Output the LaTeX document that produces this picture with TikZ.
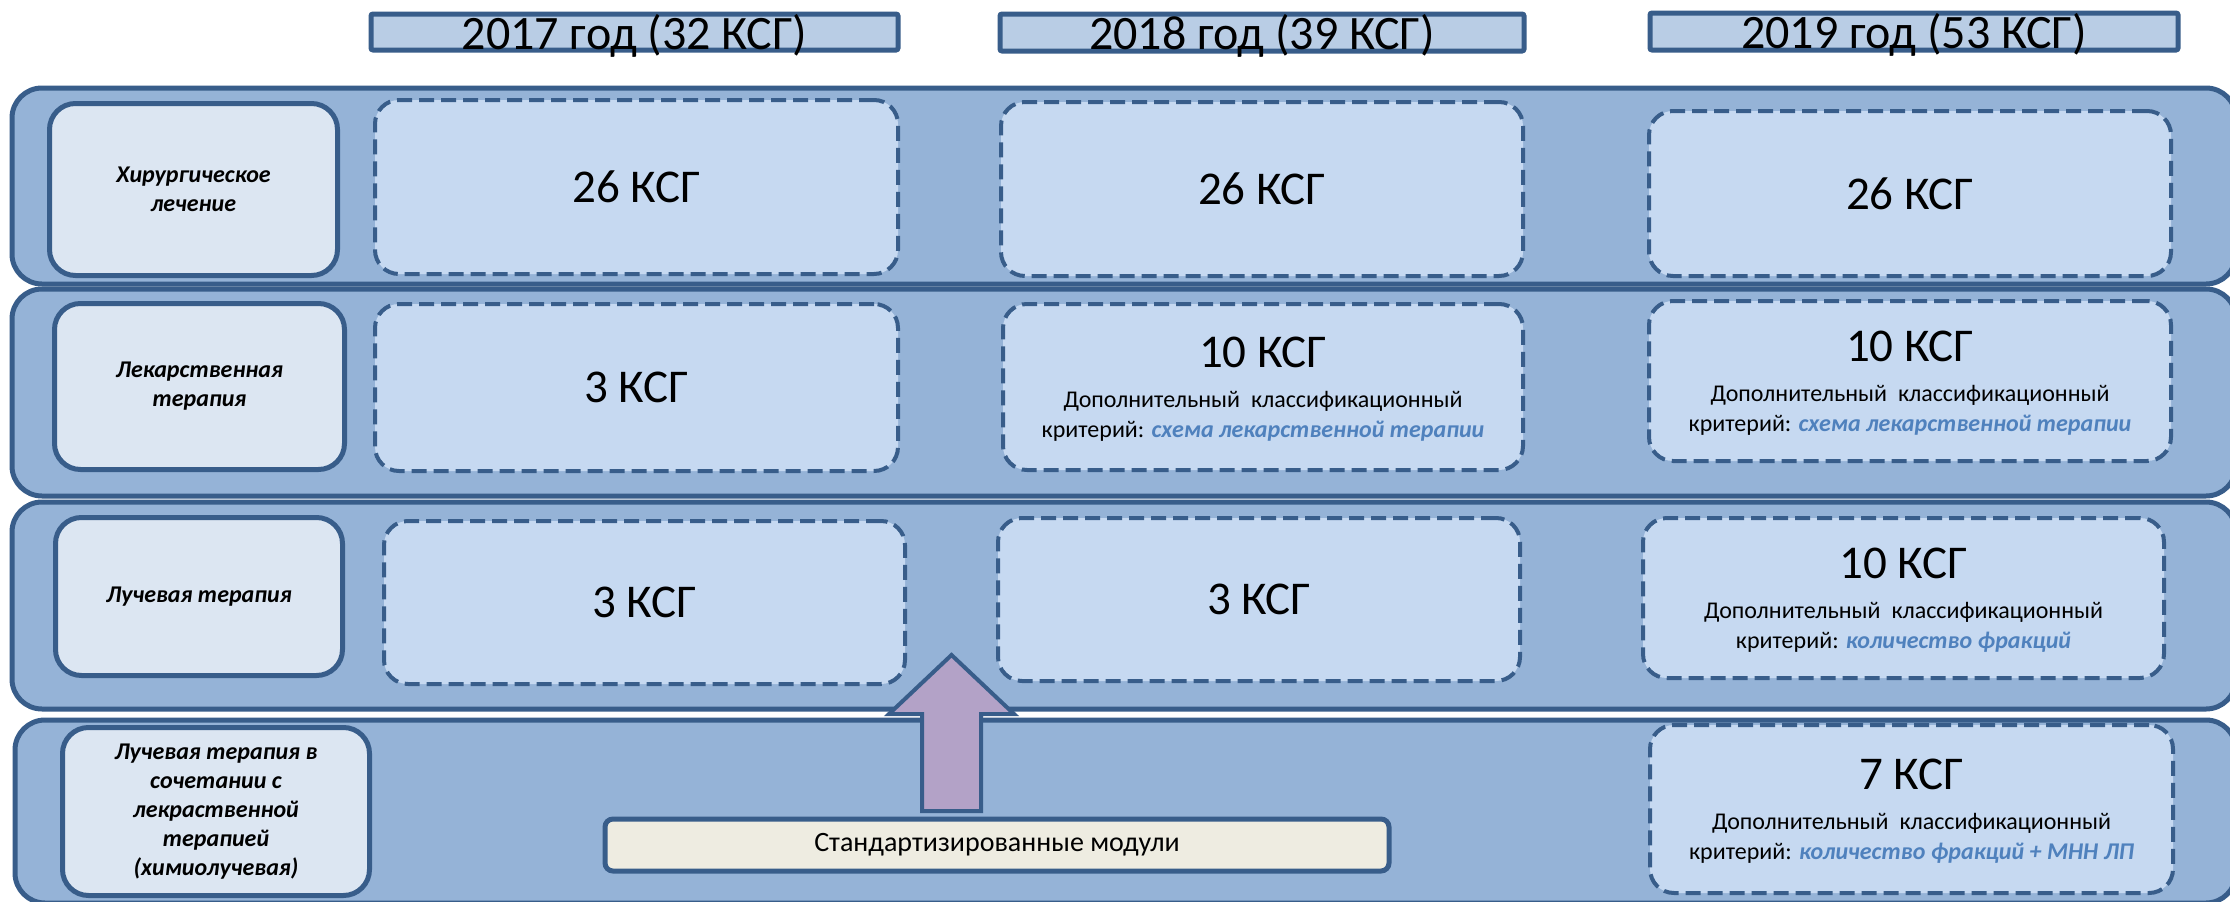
\documentclass[tikz,border=0pt]{standalone}
\usepackage{fontspec}
\setmainfont{Carlito}
\usepackage{tikz}
\usetikzlibrary{arrows.meta}

\definecolor{edgeblue}{HTML}{385D8A}
\definecolor{bandblue}{HTML}{95B3D7}
\definecolor{headblue}{HTML}{B9CDE5}
\definecolor{paleblue}{HTML}{DCE6F2}
\definecolor{boxblue}{HTML}{C6D9F1}
\definecolor{lilac}{HTML}{B3A2C7}
\definecolor{cream}{HTML}{EEECE1}
\definecolor{critblue}{HTML}{4F81BD}

\newcommand{\numtxt}{\fontsize{47}{47}\selectfont}
\newcommand{\crit}[1]{\textcolor{critblue}{\bfseries\itshape #1}}

\tikzset{
  band/.style={draw=edgeblue,fill=bandblue,line width=5pt,rounded corners=30pt},
  yearbox/.style={draw=edgeblue,fill=headblue,line width=5pt,rounded corners=2pt,
    inner sep=0pt,text height=34pt,text depth=0pt,font=\fontsize{48}{58}\selectfont},
  kind/.style={draw=edgeblue,fill=paleblue,line width=5pt,rounded corners=26pt,
    inner sep=0pt,align=center,font=\fontsize{24}{29}\selectfont\bfseries\itshape},
  ksg/.style={draw=edgeblue,fill=boxblue,line width=4pt,dash pattern=on 15pt off 7pt,
    rounded corners=24pt,inner sep=0pt,align=center,font=\fontsize{24}{30}\selectfont},
  ksgcrit/.style={ksg,text depth=-6pt},
  modbox/.style={draw=edgeblue,fill=cream,line width=5pt,rounded corners=8pt,
    inner sep=0pt,font=\fontsize{28}{32}\selectfont},
  blockarrow/.style={draw=edgeblue,fill=lilac,line width=4pt,line join=miter}
}

\begin{document}
\begin{tikzpicture}[x=1pt,y=-1pt]
    \useasboundingbox [fill=white] (0,0) rectangle (2230,902);

    % rows
    \draw [band] (12,88) rectangle (2236,284);
    \draw [band] (12,289) rectangle (2236,496);
    \draw [band] (12,502) rectangle (2236,709);
    \draw [band] (15,720) rectangle (2236,903);

    % years
    \node (y17) at (634.5,32) [yearbox,minimum width=527,minimum height=36] {2017 год (32 КСГ)};
    \node (y18) at (1262,32.5) [yearbox,minimum width=524,minimum height=37] {2018 год (39 КСГ)};
    \node (y19) at (1914,31.5) [yearbox,minimum width=528,minimum height=37] {2019 год (53 КСГ)};

    % row titles
    \node (surg) at (193.5,189.5) [kind,minimum width=288,minimum height=172] {Хирургическое\\лечение};
    \node (drug) at (199.5,386.5) [kind,minimum width=290,minimum height=166] {Лекарственная\\терапия};
    \node (ray) at (199,596.5) [kind,minimum width=287,minimum height=158] {Лучевая терапия};
    \node (chemo) at (216,811.5) [kind,minimum width=307,minimum height=168]
      {Лучевая терапия в\\сочетании с\\лекраственной\\терапией\\(химиолучевая)};

    % 2017
    \node (surgA) at (636.5,187) [ksg,minimum width=523,minimum height=174] {\numtxt 26 КСГ};
    \node (drugA) at (636.5,387.5) [ksg,minimum width=523,minimum height=167] {\numtxt 3 КСГ};
    \node (rayA) at (644.5,602.5) [ksg,minimum width=521,minimum height=163] {\numtxt 3 КСГ};

    % 2018
    \node (surgB) at (1262,189) [ksg,minimum width=522,minimum height=174] {\numtxt 26 КСГ};
    \node (drugB) at (1263,387) [ksgcrit,minimum width=520,minimum height=166]
      {{\numtxt 10 КСГ}\\[10pt]Дополнительный\ \ классификационный\\критерий: \crit{схема лекарственной терапии}};
    \node (rayB) at (1259,599.5) [ksg,minimum width=522,minimum height=163] {\numtxt 3 КСГ};

    % 2019
    \node (surgC) at (1910,193.5) [ksg,minimum width=522,minimum height=165] {\numtxt 26 КСГ};
    \node (drugC) at (1910,381) [ksgcrit,minimum width=522,minimum height=160]
      {{\numtxt 10 КСГ}\\[10pt]Дополнительный\ \ классификационный\\критерий: \crit{схема лекарственной терапии}};
    \node (rayC) at (1903.5,598) [ksgcrit,minimum width=521,minimum height=160]
      {{\numtxt 10 КСГ}\\[10pt]Дополнительный\ \ классификационный\\критерий: \crit{количество фракций}};
    \node (chemoC) at (1911.5,809) [ksgcrit,minimum width=523,minimum height=168]
      {{\numtxt 7 КСГ}\\[10pt]Дополнительный\ \ классификационный\\критерий: \crit{количество фракций + МНН ЛП}};

    \node (modules) at (997,845) [modbox,minimum width=784,minimum height=52] {Стандартизированные модули};

    % arrow up from the modules
    \coordinate (arrbase) at (951.5,811);
    \draw [blockarrow] (arrbase) -- ++(29.5,0) -- ++(0,-97) -- ++(33,0) -- (951.5,655)
      -- (889,714) -- ++(33,0) -- ++(0,97) -- cycle;
\end{tikzpicture}
\end{document}
